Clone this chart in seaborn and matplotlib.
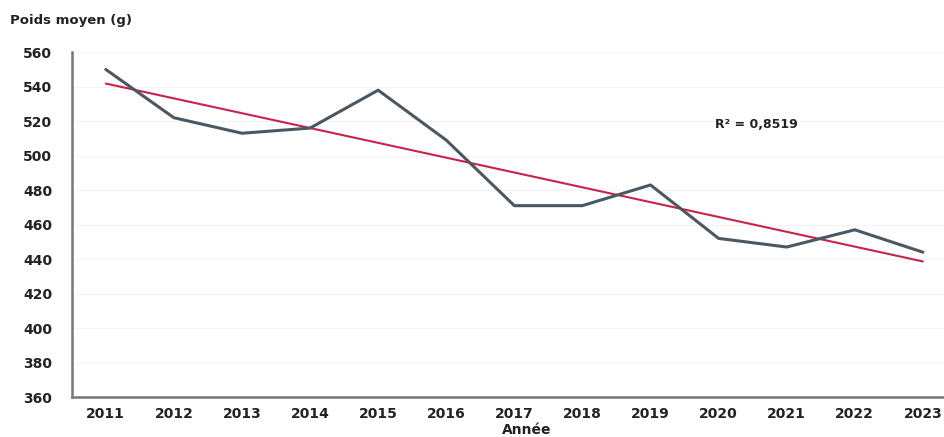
import numpy as np
import pandas as pd
import matplotlib
matplotlib.use("Agg")
import matplotlib.pyplot as plt
import seaborn as sns

# Poids moyen par année
years = ["2011", "2012", "2013", "2014", "2015", "2016", "2017",
         "2018", "2019", "2020", "2021", "2022", "2023"]
weights = [550, 522, 513, 516, 538, 509, 471, 471, 483, 452, 447, 457, 444]
y_ticks = [360, 380, 400, 420, 440, 460, 480, 500, 520, 540, 560]
r2_label = "R² = 0,8519"

df = pd.DataFrame({"idx": np.arange(len(years)), "poids": weights})

sns.set_style("white")
plt.rcParams["font.family"] = ["DejaVu Sans"]

fig = plt.figure(figsize=(9.44, 4.37), dpi=100)
ax = fig.add_axes([0.076, 0.0915, 0.924, 0.789])

# tendance linéaire
sns.regplot(data=df, x="idx", y="poids", ci=None, scatter=False, truncate=True,
            line_kws={"color": "#c8234a", "lw": 1.5}, ax=ax)
sns.lineplot(data=df, x="idx", y="poids", color="#4b5862", lw=2.2, ax=ax)

ax.text(8.95, 518, r2_label, fontsize=9, fontweight="bold",
        color="#222222", va="center", ha="left")

ax.set_ylim(360, 560)
ax.set_xlim(-0.5, 12.31)
ax.set_yticks(y_ticks)
ax.set_xticks(df["idx"])
ax.set_xticklabels(years)
ax.set_xticks(np.arange(0.5, len(years) - 1, 1), minor=True)
ax.tick_params(axis="x", which="major", length=0, pad=7, labelsize=10)
ax.tick_params(axis="x", which="minor", length=4, color="#888888", direction="out")
ax.tick_params(axis="y", length=4, color="#888888", pad=10, labelsize=10)
for lab in ax.get_xticklabels() + ax.get_yticklabels():
    lab.set_fontweight("bold")
    lab.set_color("#222222")

ax.yaxis.grid(True, color="#f4f4f4", lw=0.8)
ax.set_axisbelow(True)
for s in ["top", "right"]:
    ax.spines[s].set_visible(False)
for s in ["left", "bottom"]:
    ax.spines[s].set_color("#777777")
    ax.spines[s].set_linewidth(1.8)

ax.set_xlabel("")
ax.set_ylabel("")
fig.text(0.011, 0.952, "Poids moyen (g)", fontsize=9.5, fontweight="bold",
         color="#222222", ha="left", va="center")
fig.text(0.558, 0.0, "Année", fontsize=10, fontweight="bold",
         color="#222222", ha="center", va="bottom")

fig.savefig("out.png", dpi=100)
